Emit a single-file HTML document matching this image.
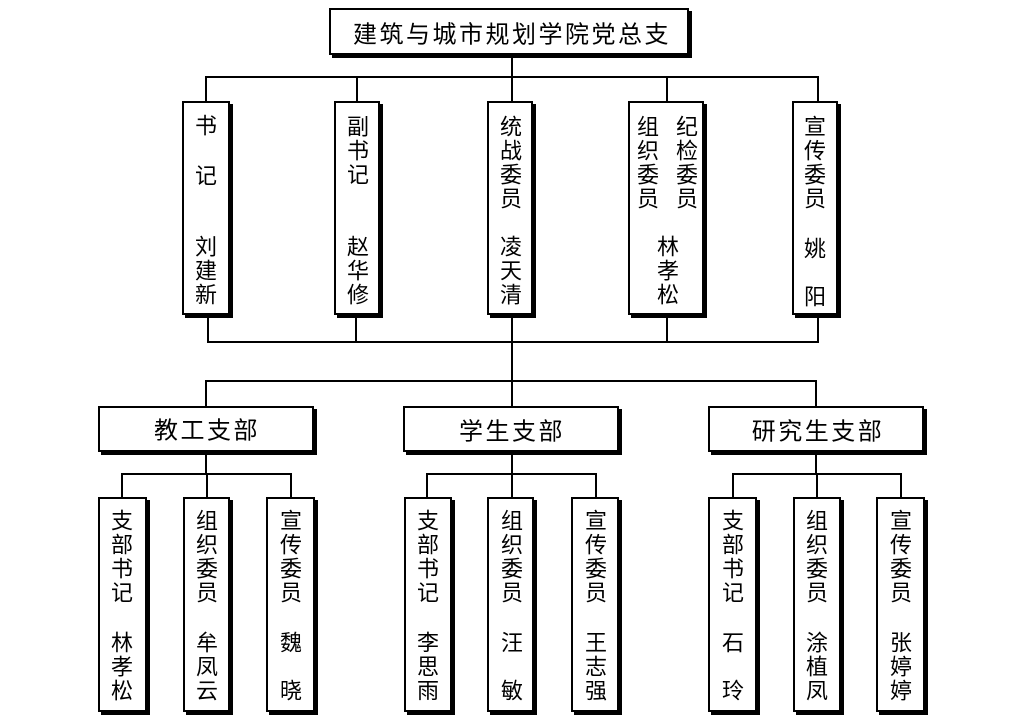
<!DOCTYPE html>
<html><head><meta charset="utf-8"><style>
html,body{margin:0;padding:0;background:#fff;}
svg{display:block;}
text{font-family:"Liberation Sans","Noto Sans CJK SC","WenQuanYi Zen Hei",sans-serif;fill:#000;}
.t{font-size:24px;}
.v{font-size:22px;}
</style></head><body>
<svg width="1024" height="723" viewBox="0 0 1024 723" xmlns="http://www.w3.org/2000/svg">
<rect width="1024" height="723" fill="#fff"/>
<g stroke="#000" stroke-width="2" fill="none" shape-rendering="crispEdges">
<!-- top connectors -->
<line x1="512" y1="58" x2="512" y2="101"/>
<line x1="205" y1="77" x2="819" y2="77"/>
<line x1="206" y1="77" x2="206" y2="101"/>
<line x1="357" y1="77" x2="357" y2="101"/>
<line x1="667" y1="77" x2="667" y2="101"/>
<line x1="818" y1="77" x2="818" y2="101"/>
<!-- bottom of level 2 -->
<line x1="208" y1="318" x2="208" y2="342"/>
<line x1="356" y1="318" x2="356" y2="342"/>
<line x1="667" y1="318" x2="667" y2="342"/>
<line x1="818" y1="318" x2="818" y2="342"/>
<line x1="207" y1="342" x2="819" y2="342"/>
<line x1="512" y1="318" x2="512" y2="406"/>
<line x1="205" y1="381" x2="817" y2="381"/>
<line x1="206" y1="381" x2="206" y2="406"/>
<line x1="816" y1="381" x2="816" y2="406"/>
<!-- branch to sub -->
<line x1="206" y1="455" x2="206" y2="474"/>
<line x1="512" y1="455" x2="512" y2="474"/>
<line x1="816" y1="455" x2="816" y2="474"/>
<line x1="121" y1="474" x2="292" y2="474"/>
<line x1="426" y1="474" x2="597" y2="474"/>
<line x1="732" y1="474" x2="902" y2="474"/>
<line x1="122" y1="474" x2="122" y2="497"/>
<line x1="207" y1="474" x2="207" y2="497"/>
<line x1="291" y1="474" x2="291" y2="497"/>
<line x1="427" y1="474" x2="427" y2="497"/>
<line x1="512" y1="474" x2="512" y2="497"/>
<line x1="596" y1="474" x2="596" y2="497"/>
<line x1="733" y1="474" x2="733" y2="497"/>
<line x1="817" y1="474" x2="817" y2="497"/>
<line x1="901" y1="474" x2="901" y2="497"/>
</g>
<g shape-rendering="crispEdges">
<!-- boxes: shadow + white rect with border -->
<!-- title 329,8,692,58 -->
<rect x="332" y="11" width="360" height="47" fill="#000"/>
<rect x="330" y="9" width="358" height="45" fill="#fff" stroke="#000" stroke-width="2"/>
<!-- level 2 -->
<rect x="185" y="104" width="48" height="214" fill="#000"/>
<rect x="183" y="102" width="46" height="212" fill="#fff" stroke="#000" stroke-width="2"/>
<rect x="337" y="104" width="46" height="214" fill="#000"/>
<rect x="335" y="102" width="44" height="212" fill="#fff" stroke="#000" stroke-width="2"/>
<rect x="490" y="104" width="46" height="214" fill="#000"/>
<rect x="488" y="102" width="44" height="212" fill="#fff" stroke="#000" stroke-width="2"/>
<rect x="631" y="104" width="76" height="214" fill="#000"/>
<rect x="629" y="102" width="74" height="212" fill="#fff" stroke="#000" stroke-width="2"/>
<rect x="795" y="104" width="46" height="214" fill="#000"/>
<rect x="793" y="102" width="44" height="212" fill="#fff" stroke="#000" stroke-width="2"/>
<!-- branches -->
<rect x="101" y="409" width="216" height="46" fill="#000"/>
<rect x="99" y="407" width="214" height="44" fill="#fff" stroke="#000" stroke-width="2"/>
<rect x="406" y="409" width="216" height="46" fill="#000"/>
<rect x="404" y="407" width="214" height="44" fill="#fff" stroke="#000" stroke-width="2"/>
<rect x="711" y="409" width="216" height="46" fill="#000"/>
<rect x="709" y="407" width="214" height="44" fill="#fff" stroke="#000" stroke-width="2"/>
<!-- sub boxes -->
<rect x="101" y="500" width="49" height="215" fill="#000"/>
<rect x="99" y="498" width="47" height="213" fill="#fff" stroke="#000" stroke-width="2"/>
<rect x="186" y="500" width="47" height="215" fill="#000"/>
<rect x="184" y="498" width="45" height="213" fill="#fff" stroke="#000" stroke-width="2"/>
<rect x="269" y="500" width="49" height="215" fill="#000"/>
<rect x="267" y="498" width="47" height="213" fill="#fff" stroke="#000" stroke-width="2"/>
<rect x="407" y="500" width="48" height="215" fill="#000"/>
<rect x="405" y="498" width="46" height="213" fill="#fff" stroke="#000" stroke-width="2"/>
<rect x="490" y="500" width="47" height="215" fill="#000"/>
<rect x="488" y="498" width="45" height="213" fill="#fff" stroke="#000" stroke-width="2"/>
<rect x="574" y="500" width="48" height="215" fill="#000"/>
<rect x="572" y="498" width="46" height="213" fill="#fff" stroke="#000" stroke-width="2"/>
<rect x="711" y="500" width="49" height="215" fill="#000"/>
<rect x="709" y="498" width="47" height="213" fill="#fff" stroke="#000" stroke-width="2"/>
<rect x="796" y="500" width="48" height="215" fill="#000"/>
<rect x="794" y="498" width="46" height="213" fill="#fff" stroke="#000" stroke-width="2"/>
<rect x="879" y="500" width="49" height="215" fill="#000"/>
<rect x="877" y="498" width="47" height="213" fill="#fff" stroke="#000" stroke-width="2"/>
</g>

<!-- horizontal labels -->
<g class="t" text-anchor="middle" dominant-baseline="central">
<text x="512" y="35" letter-spacing="2.5">建筑与城市规划学院党总支</text>
<text x="207" y="431" letter-spacing="2.5">教工支部</text>
<text x="512" y="432" letter-spacing="2.5">学生支部</text>
<text x="818" y="432" letter-spacing="2.5">研究生支部</text>
</g>

<!-- vertical labels -->
<g class="v" text-anchor="middle" dominant-baseline="central">
<!-- 书记 -->
<text x="206" y="126">书</text>
<text x="206" y="176">记</text>
<text x="206" y="247">刘</text>
<text x="206" y="271">建</text>
<text x="206" y="295">新</text>
<!-- 副书记 -->
<text x="358" y="127">副</text>
<text x="358" y="151">书</text>
<text x="358" y="175">记</text>
<text x="358" y="247">赵</text>
<text x="358" y="271">华</text>
<text x="358" y="295">修</text>
<!-- 统战委员 -->
<text x="511" y="127">统</text>
<text x="511" y="151">战</text>
<text x="511" y="175">委</text>
<text x="511" y="199">员</text>
<text x="511" y="247">凌</text>
<text x="511" y="271">天</text>
<text x="511" y="295">清</text>
<!-- 组织委员 纪检委员 -->
<text x="648" y="127">组</text>
<text x="648" y="151">织</text>
<text x="648" y="175">委</text>
<text x="648" y="199">员</text>
<text x="687" y="127">纪</text>
<text x="687" y="151">检</text>
<text x="687" y="175">委</text>
<text x="687" y="199">员</text>
<text x="668" y="247">林</text>
<text x="668" y="271">孝</text>
<text x="668" y="295">松</text>
<!-- 宣传委员 -->
<text x="815" y="127">宣</text>
<text x="815" y="151">传</text>
<text x="815" y="175">委</text>
<text x="815" y="199">员</text>
<text x="815" y="249">姚</text>
<text x="815" y="297">阳</text>

<!-- group 1 -->
<text x="122" y="521">支</text>
<text x="122" y="545">部</text>
<text x="122" y="569">书</text>
<text x="122" y="593">记</text>
<text x="122" y="643">林</text>
<text x="122" y="667">孝</text>
<text x="122" y="691">松</text>
<text x="207" y="521">组</text>
<text x="207" y="545">织</text>
<text x="207" y="569">委</text>
<text x="207" y="593">员</text>
<text x="207" y="643">牟</text>
<text x="207" y="667">凤</text>
<text x="207" y="691">云</text>
<text x="291" y="521">宣</text>
<text x="291" y="545">传</text>
<text x="291" y="569">委</text>
<text x="291" y="593">员</text>
<text x="291" y="643">魏</text>
<text x="291" y="691">晓</text>
<!-- group 2 -->
<text x="428" y="521">支</text>
<text x="428" y="545">部</text>
<text x="428" y="569">书</text>
<text x="428" y="593">记</text>
<text x="428" y="643">李</text>
<text x="428" y="667">思</text>
<text x="428" y="691">雨</text>
<text x="512" y="521">组</text>
<text x="512" y="545">织</text>
<text x="512" y="569">委</text>
<text x="512" y="593">员</text>
<text x="512" y="643">汪</text>
<text x="512" y="691">敏</text>
<text x="596" y="521">宣</text>
<text x="596" y="545">传</text>
<text x="596" y="569">委</text>
<text x="596" y="593">员</text>
<text x="596" y="643">王</text>
<text x="596" y="667">志</text>
<text x="596" y="691">强</text>
<!-- group 3 -->
<text x="733" y="521">支</text>
<text x="733" y="545">部</text>
<text x="733" y="569">书</text>
<text x="733" y="593">记</text>
<text x="733" y="643">石</text>
<text x="733" y="691">玲</text>
<text x="817" y="521">组</text>
<text x="817" y="545">织</text>
<text x="817" y="569">委</text>
<text x="817" y="593">员</text>
<text x="817" y="643">涂</text>
<text x="817" y="667">植</text>
<text x="817" y="691">凤</text>
<text x="901" y="521">宣</text>
<text x="901" y="545">传</text>
<text x="901" y="569">委</text>
<text x="901" y="593">员</text>
<text x="901" y="643">张</text>
<text x="901" y="667">婷</text>
<text x="901" y="691">婷</text>
</g>
</svg>
</body></html>
